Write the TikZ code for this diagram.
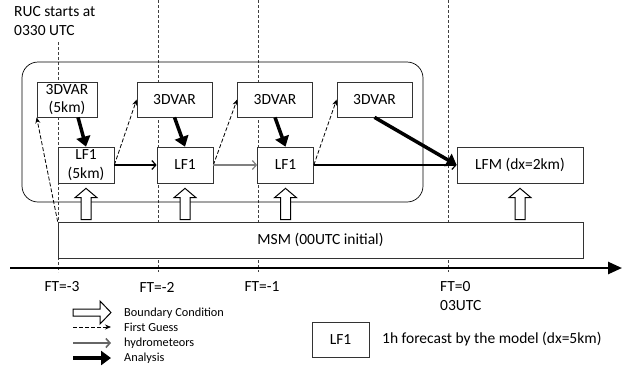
\documentclass[tikz,border=0pt]{standalone}
\usepackage{fontspec}
\setmainfont{Carlito}
\usetikzlibrary{arrows.meta,calc}

\tikzset{
  modelbox/.style={draw=black!80, line width=0.7pt, fill=white, inner sep=0pt,
    minimum height=35, align=center, font=\fontsize{15.5}{18.5}\selectfont},
  fg/.style={dash pattern=on 4pt off 2pt, line width=0.8pt, -{Stealth[length=6pt,width=5pt]}},
  ana/.style={line width=3.5pt, -{Triangle[length=10pt,width=14pt]}},
  fcst/.style={line width=1.2pt, -{Straight Barb[length=4pt,width=9pt]}},
  hyd/.style={fcst, draw=black!50},
  bcline/.style={draw=black, line width=1pt, fill=white},
  ftline/.style={dash pattern=on 3pt off 2pt, draw=black!75, line width=0.6pt},
  lbl/.style={font=\fontsize{15.5}{18.5}\selectfont, align=left, inner sep=0pt},
  keytext/.style={font=\fontsize{12.3}{14}\selectfont, anchor=west, inner sep=0pt}
}

% open block arrow from the bottom box #2 up to box #1
\newcommand\bcarrow[2]{%
  \draw[bcline] ($(#1.south |- #2.north)+(-5,-2)$) -- ++(0,-22) -- ++(-6,0)
    -- ($(#1.south)+(0,5)$) -- ($(#1.south |- #2.north)+(11,-24)$)
    -- ++(-6,0) -- ++(0,22) -- cycle;}

\begin{document}
\begin{tikzpicture}[x=1pt,y=-1pt]
\useasboundingbox (0,0) rectangle (628,365);

% forecast times
\foreach \x/\y in {58/42,158/0,258/0,448/0}
  \draw[ftline] (\x,\y) -- (\x,272);

\draw[line width=0.7pt,rounded corners=16pt] (22,62) rectangle (423,202);

\node[lbl, anchor=west] (ruc) at (14,21) {RUC starts at\\0330 UTC};

% analyses
\node[modelbox, minimum width=60] (var1) at (67,99.5) {3DVAR\\(5km)};
\node[modelbox, minimum width=75] (var2) at (174.5,99.5) {3DVAR};
\node[modelbox, minimum width=75] (var3) at (275,99.5) {3DVAR};
\node[modelbox, minimum width=75] (var4) at (374.5,99.5) {3DVAR};

% forecasts
\node[modelbox, minimum width=56, minimum height=36] (lfa) at (86,165) {LF1\\(5km)};
\node[modelbox, minimum width=56, minimum height=36] (lfb) at (185,165) {LF1};
\node[modelbox, minimum width=56, minimum height=36] (lfc) at (285.5,165) {LF1};
\node[modelbox, minimum width=126, minimum height=36] (lfm) at (520,165) {LFM (dx=2km)};

\node[modelbox, minimum width=525, minimum height=36] (msm) at (320.5,240) {MSM (00UTC initial)};

\bcarrow{lfa}{msm}
\bcarrow{lfb}{msm}
\bcarrow{lfc}{msm}
\bcarrow{lfm}{msm}

% first guess
\draw[fg] (msm.north west) -- (var1.south west);
\draw[fg] (lfa.east) -- (var2.west);
\draw[fg] (lfb.east) -- (var3.west);
\draw[fg] (lfc.east) -- (var4.west);

% analysis
\draw[ana] ($(var1.south)+(11,0)$) -- (lfa.north);
\draw[ana] (var2.south) -- (lfb.north);
\draw[ana] (var3.south) -- (lfc.north);
\draw[ana] (var4.south) -- (lfm.west);

% hydrometeors
\draw[fcst] (lfa.east) -- (lfb.west);
\draw[hyd] (lfb.east) -- (lfc.west);
\draw[fcst] (lfc.east) -- (lfm.west);

% time axis
\draw[line width=2.5pt, -{Triangle[length=14pt,width=12pt]}] (10,268) -- (622,268);

\node[lbl] (ft3) at (62,287) {FT=-3};
\node[lbl] (ft2) at (157,287) {FT=-2};
\node[lbl] (ft1) at (262,287) {FT=-1};
\node[lbl, anchor=west] (ft0) at (440,296) {FT=0\\03UTC};

% legend
\draw[bcline] (73,309) -- (100,309) -- (100,301) -- (111,312.5) -- (100,324)
  -- (100,316) -- (73,316) -- cycle;
\draw[fg] (73,327) -- (111,327);
\draw[fcst, draw=black!60, line width=1.6pt] (73,343) -- (111,343);
\draw[ana] (73,358) -- (111,358);

\node[keytext] (kbc) at (124,313) {Boundary Condition};
\node[keytext] (kfg) at (124,327) {First Guess};
\node[keytext] (khy) at (124,343) {hydrometeors};
\node[keytext] (kan) at (124,358) {Analysis};

\node[modelbox, minimum width=57] (lfkey) at (340.5,339.5) {LF1};
\node[lbl, anchor=west] (lfdesc) at (382,339.5) {1h forecast by the model (dx=5km)};

\end{tikzpicture}
\end{document}
